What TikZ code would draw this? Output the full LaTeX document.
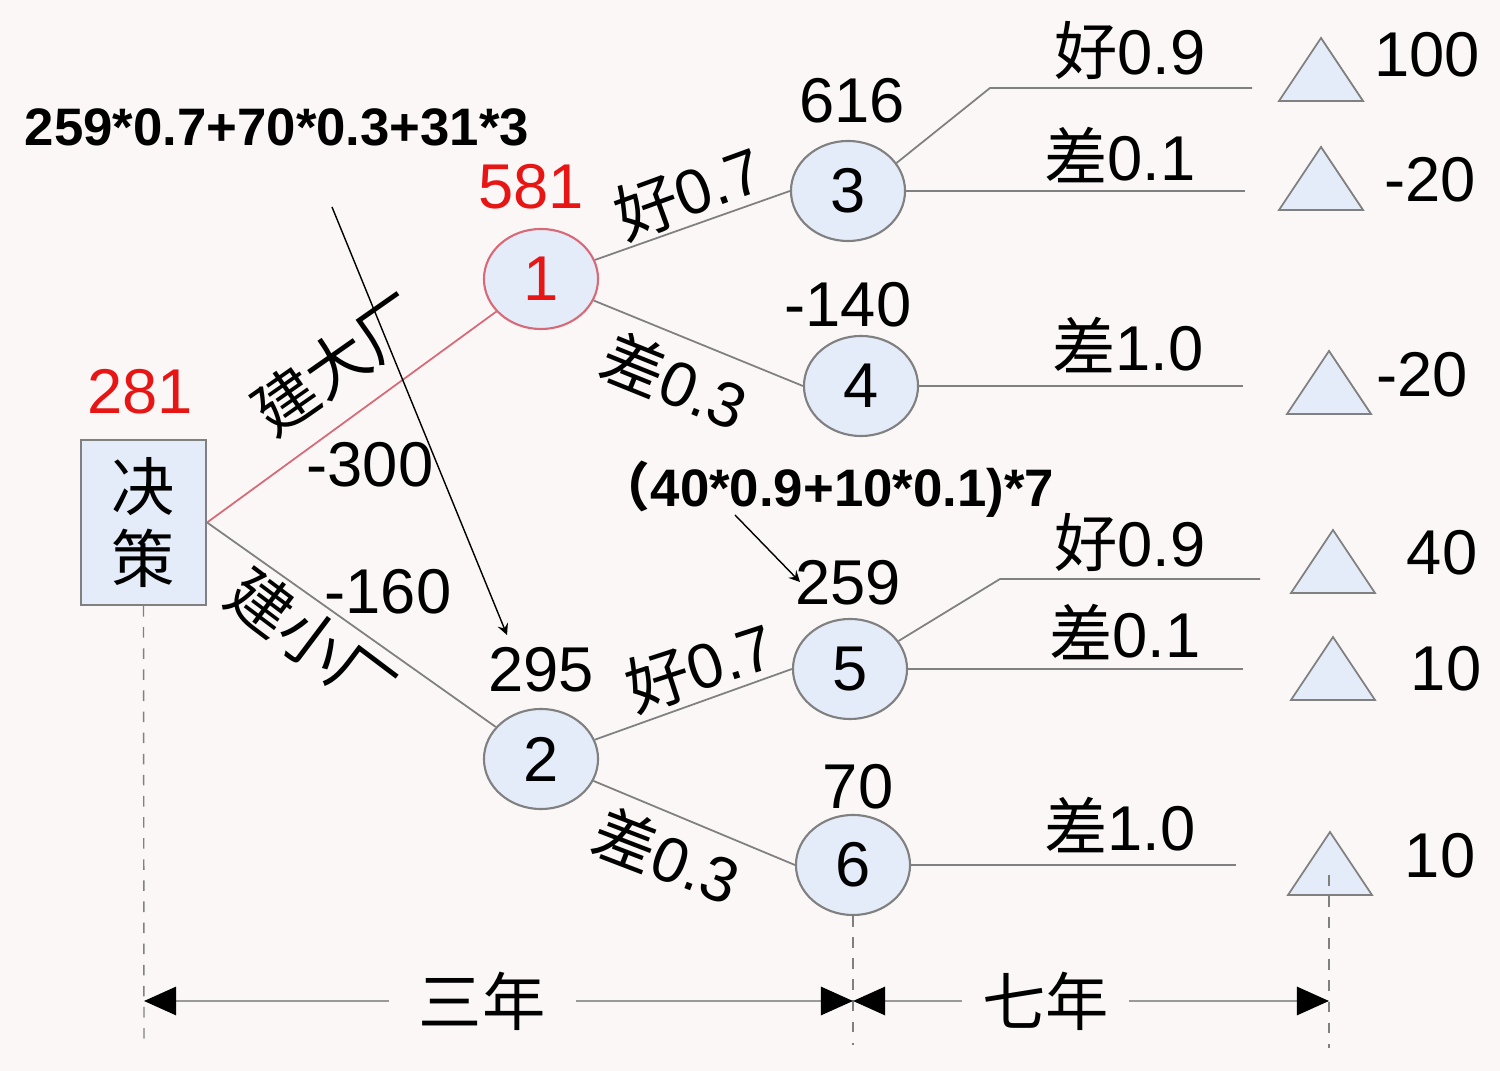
\documentclass[tikz,border=0pt]{standalone}
\usepackage{fontspec}
\setmainfont{Liberation Sans}
\newfontfamily\cjk{Noto Sans CJK SC}
\usetikzlibrary{shapes.geometric,arrows.meta}
\definecolor{bgpaper}{HTML}{FAF7F6}
\definecolor{nodefill}{HTML}{E3ECF8}
\definecolor{rimgrey}{HTML}{808080}
\definecolor{valred}{HTML}{E81515}
\definecolor{rimred}{HTML}{D86A78}
\tikzset{
  chance/.style={ellipse,draw=rimgrey,fill=nodefill,line width=0.6pt,minimum width=1.14cm,minimum height=1cm,inner sep=0pt,font=\fontsize{18}{18}\selectfont},
  val/.style={inner sep=0pt,font=\fontsize{18}{18}\selectfont},
  calc/.style={inner sep=0pt,font=\fontsize{15}{15}\selectfont\bfseries},
  branch/.style={draw=rimgrey,line width=0.5pt},
  leaf/.style={draw=rimgrey,fill=nodefill,line width=0.5pt},
  guide/.style={draw=rimgrey,dashed,line width=0.4pt},
  dimline/.style={draw=black!40,line width=0.8pt,{Triangle[length=0.32cm,width=0.28cm,black]}-{Triangle[length=0.32cm,width=0.28cm,black]}},
  gaplabel/.style={fill=bgpaper,inner ysep=0pt,font=\fontsize{18}{18}\selectfont\cjk}
}
\begin{document}
\begin{tikzpicture}[x=0.01cm,y=-0.01cm]
\fill[bgpaper] (0,0) rectangle (1500,1071);
\useasboundingbox (0,0) rectangle (1500,1071);

% decision node and the two choices
\node [draw=rimgrey,fill=nodefill,line width=0.6pt,minimum width=1.25cm,minimum height=1.65cm,align=center,font=\fontsize{18}{20.5}\selectfont\cjk] (dt-box) at (143.5,522.5) {决\\策};
\node [val,text=valred] (dt-v0) at (140,392) {281};

\node [chance,draw=rimred,text=valred] (dt-1) at (541,279) {1};
\node [val,text=valred] (dt-v1) at (531,187) {581};
\node [chance] (dt-2) at (541,759) {2};
\node [val] (dt-v2) at (541,670) {295};

\draw [draw=rimred,line width=0.5pt] (dt-box.east) -- (dt-1);
\draw [branch] (dt-box.east) -- (dt-2);
\node [rotate=35,font=\fontsize{18}{18}\selectfont\cjk] (dt-big) at (337,364) {建大厂};
\node [rotate=-37,font=\fontsize{18}{18}\selectfont\cjk] (dt-small) at (312,640) {建小厂};
\node [val] (dt-cost1) at (370,465) {-300};
\node [val] (dt-cost2) at (388,592) {-160};

% second stage
\node [chance] (dt-3) at (848,191) {3};
\node [val] (dt-v3) at (852,101) {616};
\node [chance] (dt-4) at (861,386) {4};
\node [val] (dt-v4) at (848,305) {-140};
\node [chance] (dt-5) at (850,669) {5};
\node [val] (dt-v5) at (848,583) {259};
\node [chance] (dt-6) at (853,865) {6};
\node [val] (dt-v6) at (858,787) {70};

\draw [branch] (dt-1) -- (dt-3.west);
\draw [branch] (dt-1) -- (dt-4.west);
\draw [branch] (dt-2) -- (dt-5.west);
\draw [branch] (dt-2) -- (dt-6.west);
\node [val,rotate=20] (dt-p13) at (688,192) {{\cjk 好}0.7};
\node [val,rotate=-22] (dt-p14) at (675,380) {{\cjk 差}0.3};
\node [val,rotate=18] (dt-p25) at (700,666) {{\cjk 好}0.7};
\node [val,rotate=-21] (dt-p26) at (667,855) {{\cjk 差}0.3};

% last stage
\coordinate (c3a) at (990,88);
\coordinate (c3b) at (1252,88);
\coordinate (c3c) at (1245,191);
\coordinate (c4a) at (1243,386);
\coordinate (c5a) at (1000,579);
\coordinate (c5b) at (1260,579);
\coordinate (c5c) at (1243,669);
\coordinate (c6a) at (1236,865);
\draw [branch] (dt-3.30) -- (c3a) -- (c3b);
\draw [branch] (dt-3.east) -- (c3c);
\draw [branch] (dt-4.east) -- (c4a);
\draw [branch] (dt-5.30) -- (c5a) -- (c5b);
\draw [branch] (dt-5.east) -- (c5c);
\draw [branch] (dt-6.east) -- (c6a);

\node [val] (dt-q31) at (1130,50) {{\cjk 好}0.9};
\node [val] (dt-q32) at (1120,155) {{\cjk 差}0.1};
\node [val] (dt-q41) at (1128,345) {{\cjk 差}1.0};
\node [val] (dt-q51) at (1130,542) {{\cjk 好}0.9};
\node [val] (dt-q52) at (1125,632) {{\cjk 差}0.1};
\node [val] (dt-q61) at (1120,825) {{\cjk 差}1.0};

\foreach \x/\y in {1321/101,1321/210,1329/414,1333/593,1333/700,1330/895}
  \draw [leaf] (\x-42,\y) -- (\x,\y-63) -- (\x+42,\y) -- cycle;

\node [val] (dt-r1) at (1427,55) {100};
\node [val] (dt-r2) at (1430,180) {-20};
\node [val] (dt-r3) at (1422,375) {-20};
\node [val] (dt-r4) at (1442,553) {40};
\node [val] (dt-r5) at (1446,669) {10};
\node [val] (dt-r6) at (1440,856) {10};

% worked sums
\node [calc] (dt-sum1) at (277,127) {259*0.7+70*0.3+31*3};
\coordinate (a1s) at (332,207);
\coordinate (a1e) at (507,635);
\draw [-stealth,thin] (a1s) -- (a1e);
\node [calc] (dt-sum2) at (826,489) {{\cjk （}40*0.9+10*0.1)*7};
\coordinate (a2s) at (735,515);
\coordinate (a2e) at (800,582);
\draw [-stealth,thin] (a2s) -- (a2e);

% time spans
\coordinate (dim-a) at (144,1001);
\coordinate (dim-b) at (853,1001);
\coordinate (dim-c) at (1329,1001);
\draw [guide] (dt-box.south) -- (144,1048);
\draw [guide] (dt-6.south) -- (853,1045);
\draw [guide] (1329,875) -- (1329,1048);
\draw [dimline] (dim-a) -- node [gaplabel,pos=0.477,inner xsep=0.3cm] {三年} (dim-b);
\draw [dimline] (dim-b) -- node [gaplabel,pos=0.405,inner xsep=0.2cm] {七年} (dim-c);

\end{tikzpicture}
\end{document}
